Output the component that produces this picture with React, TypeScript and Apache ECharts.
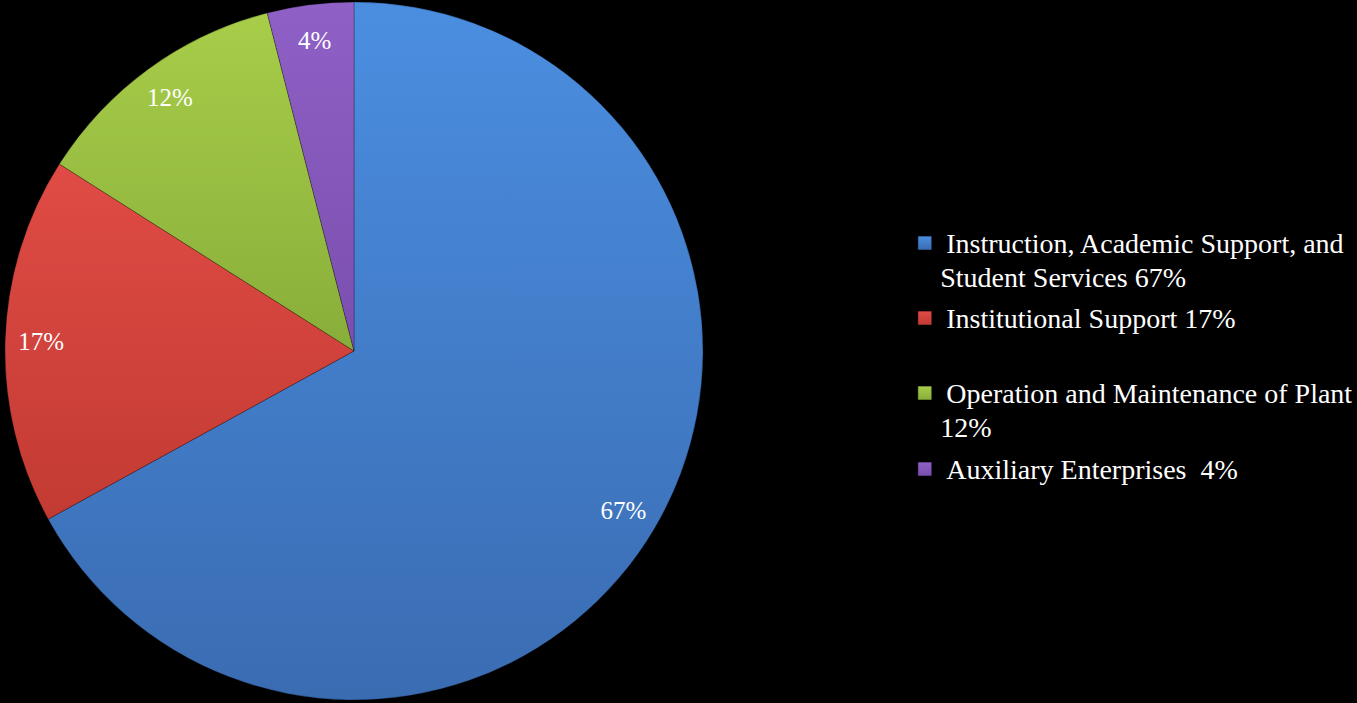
import React, { useEffect, useRef } from "react";
import * as echarts from "echarts";

const categories = [
  "Instruction, Academic Support, and Student Services 67%",
  "Institutional Support 17%",
  "Operation and Maintenance of Plant 12%",
  "Auxiliary Enterprises  4%",
];
const legendFirstLines = [
  "Instruction, Academic Support, and",
  "Institutional Support 17%",
  "Operation and Maintenance of Plant",
  "Auxiliary Enterprises  4%",
];
const legendSecondLines = ["Student Services 67%", "", "12%", ""];
const values = [67, 17, 12, 4];
const sliceLabels = ["67%", "17%", "12%", "4%"];
const topColors = ["#4b8ee0", "#e04b45", "#a8cd49", "#8f60c6"];
const bottomColors = ["#3a6cb2", "#c23b33", "#88ae3a", "#7a4fae"];
const legendIconCenters = [243, 318, 393, 469];

const grad = (i: number) =>
  new echarts.graphic.LinearGradient(0, 0, 0, 1, [
    { offset: 0, color: topColors[i] },
    { offset: 1, color: bottomColors[i] },
  ]);

export default function App() {
  const ref = useRef<HTMLDivElement>(null);
  useEffect(() => {
    const chart = echarts.init(ref.current!, undefined, { renderer: "svg" });
    const font = "Liberation Serif";
    const legends = categories.map((name, i) => {
      const multi = legendSecondLines[i] !== "";
      const top = multi ? legendIconCenters[i] - 51 : legendIconCenters[i] - 17;
      return {
        orient: "vertical",
        left: 918,
        top,
        padding: 0,
        itemWidth: 13,
        itemHeight: 13,
        icon: "rect",
        selectedMode: false,
        data: [{ name, itemStyle: { color: grad(i), borderColor: bottomColors[i], borderWidth: 0.5 } }],
        formatter: () =>
          multi
            ? "{s| }\n{f|" + legendFirstLines[i] + "}\n{g|" + legendSecondLines[i] + "}"
            : "{f|" + legendFirstLines[i] + "}",
        textStyle: {
          color: "#ffffff",
          fontFamily: font,
          fontSize: 28,
          lineHeight: 34,
          rich: {
            s: { fontFamily: font, fontSize: 28, lineHeight: 34, color: "#ffffff" },
            f: { fontFamily: font, fontSize: 28, lineHeight: 34, color: "#ffffff", padding: [0, 0, 0, 10] },
            g: { fontFamily: font, fontSize: 28, lineHeight: 34, color: "#ffffff", padding: [0, 0, 0, 4] },
          },
        },
      };
    });
    chart.setOption({
      animation: false,
      backgroundColor: "#000000",
      legend: legends,
      series: [
        {
          type: "pie",
          center: [354, 351],
          radius: [0, 349],
          startAngle: 90,
          clockwise: true,
          silent: true,
          label: { show: false },
          labelLine: { show: false },
          itemStyle: { borderColor: "rgba(0,0,0,0.25)", borderWidth: 1 },
          data: categories.map((name, i) => ({
            name,
            value: values[i],
            itemStyle: { color: grad(i) },
          })),
        },
        {
          type: "pie",
          center: [354, 351],
          radius: [270, 350],
          startAngle: 90,
          clockwise: true,
          silent: true,
          itemStyle: { color: "rgba(0,0,0,0)" },
          labelLine: { show: false },
          label: {
            show: true,
            position: "inside",
            color: "#ffffff",
            fontFamily: font,
            fontSize: 25,
            formatter: (p: any) => sliceLabels[p.dataIndex],
          },
          data: categories.map((name, i) => ({ name, value: values[i] })),
        },
      ],
    });
    return () => chart.dispose();
  }, []);
  return (
    <div
      ref={ref}
      style={{ position: "fixed", left: 0, top: 0, width: 1357, height: 703, background: "#000" }}
    />
  );
}
